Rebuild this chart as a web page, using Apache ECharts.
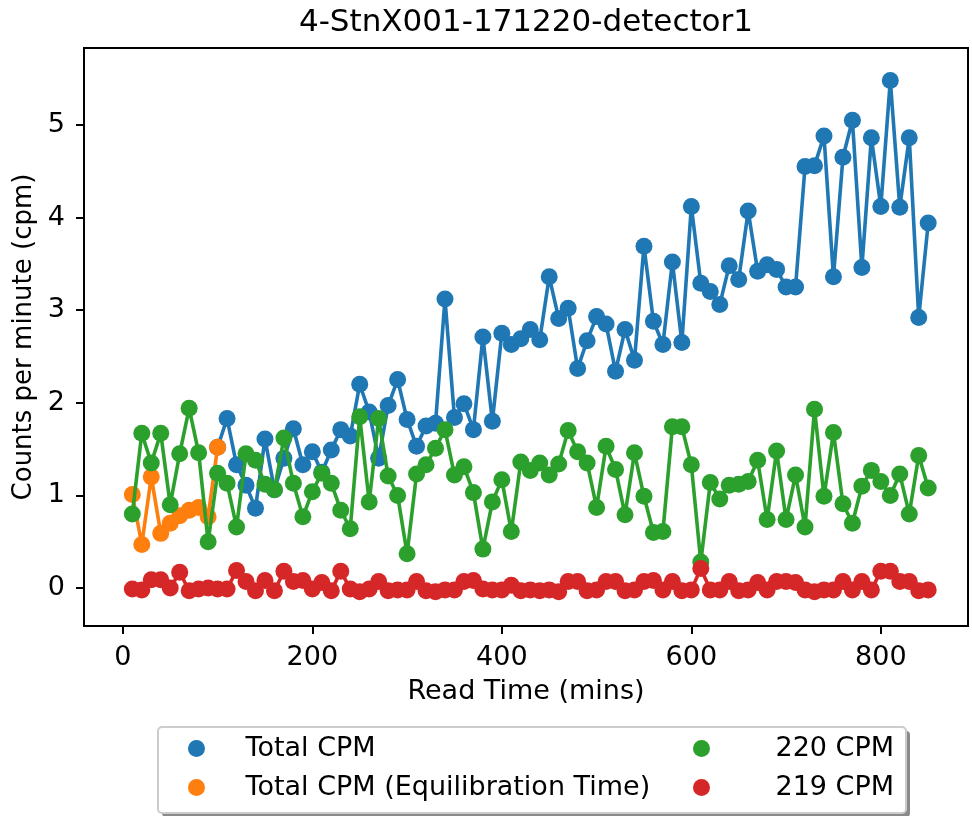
<!DOCTYPE html>
<html>
<head>
<meta charset="utf-8">
<script src="https://cdn.jsdelivr.net/npm/echarts@6/dist/echarts.min.js"></script>
<style>html,body{margin:0;padding:0;background:#fff}#main{width:972px;height:816px}</style>
</head>
<body>
<div id="main"></div>
<script>
// read times (mins)
var readTimes = [10,20,30,40,50,60,70,80,90,100,110,120,130,140,150,160,170,180,190,200,
  210,220,230,240,250,260,270,280,290,300,310,320,330,340,350,360,370,380,390,400,
  410,420,430,440,450,460,470,480,490,500,510,520,530,540,550,560,570,580,590,600,
  610,620,630,640,650,660,670,680,690,700,710,720,730,740,750,760,770,780,790,800,
  810,820,830,840,850];

// total cpm, 100..850
var totalCpm = [1.52,1.83,1.33,1.11,0.86,1.61,1.06,1.40,1.72,1.33,
  1.47,1.25,1.49,1.71,1.64,2.20,1.90,1.40,1.97,2.25,
  1.82,1.53,1.75,1.78,3.12,1.84,1.99,1.71,2.71,1.80,
  2.75,2.63,2.69,2.79,2.68,3.36,2.91,3.02,2.37,2.67,
  2.93,2.85,2.34,2.79,2.46,3.69,2.88,2.63,3.52,2.65,
  4.12,3.29,3.20,3.06,3.48,3.33,4.07,3.42,3.49,3.44,
  3.25,3.25,4.55,4.56,4.88,3.36,4.65,5.05,3.46,4.86,
  4.12,5.48,4.11,4.86,2.92,3.94];
// equilibration, 10..100
var equilCpm = [1.01,0.47,1.20,0.59,0.70,0.78,0.84,0.87,0.77,1.52];
// 220 cpm, 10..850
var cpm220 = [0.80,1.67,1.35,1.67,0.90,1.45,1.94,1.46,0.50,1.24,
  1.13,0.66,1.45,1.38,1.12,1.06,1.62,1.13,0.77,1.04,
  1.24,1.13,0.84,0.64,1.85,0.93,1.83,1.21,1.00,0.37,
  1.23,1.33,1.51,1.71,1.22,1.31,1.03,0.42,0.93,1.17,
  0.61,1.36,1.27,1.35,1.22,1.34,1.70,1.47,1.35,0.87,
  1.53,1.28,0.79,1.46,0.99,0.60,0.61,1.74,1.74,1.33,
  0.28,1.14,0.96,1.11,1.12,1.15,1.38,0.74,1.48,0.74,
  1.22,0.66,1.93,0.99,1.68,0.91,0.70,1.10,1.27,1.15,
  1.00,1.23,0.80,1.43,1.08];
// 219 cpm, 10..850
var cpm219 = [-0.01,-0.02,0.09,0.09,0.00,0.17,-0.03,-0.01,0.00,-0.01,
  -0.01,0.19,0.07,-0.03,0.08,-0.03,0.18,0.07,0.08,-0.01,
  0.06,-0.03,0.18,-0.01,-0.04,-0.01,0.07,-0.03,-0.02,-0.02,
  0.07,-0.03,-0.04,-0.02,-0.02,0.07,0.08,-0.01,-0.02,-0.02,
  0.03,-0.03,-0.02,-0.03,-0.02,-0.04,0.07,0.07,-0.03,-0.02,
  0.07,0.07,-0.03,-0.02,0.07,0.08,-0.02,0.07,-0.03,-0.02,
  0.21,-0.02,-0.02,0.07,-0.03,-0.02,0.06,-0.02,0.07,0.07,
  0.06,-0.02,-0.04,-0.02,-0.02,0.07,-0.02,0.07,-0.02,0.18,
  0.18,0.07,0.07,-0.03,-0.02];

var xTicks = [0, 200, 400, 600, 800];
var yTicks = [0, 1, 2, 3, 4, 5];

function pairs(times, vals) {
  return vals.map(function (v, i) { return [times[i], v]; });
}

var font = 'DejaVu Sans';
var fs = 27;
var myChart = echarts.init(document.getElementById('main'));

function lineSeries(name, color, data, z) {
  return {
    name: name,
    type: 'line',
    data: data,
    z: z,
    symbol: 'circle',
    symbolSize: 17,
    color: color,
    itemStyle: { color: color, borderWidth: 0 },
    lineStyle: { color: color, width: 3.6 },
    emphasis: { disabled: true }
  };
}

var option = {
  animation: false,
  backgroundColor: '#fff',
  title: {
    text: '4-StnX001-171220-detector1',
    left: 526,
    textAlign: 'center',
    top: 7,
    padding: 0,
    textStyle: { fontFamily: font, fontSize: 31, fontWeight: 'normal', color: '#000' }
  },
  grid: {
    left: 84, right: 4, top: 48, bottom: 190,
    show: true, borderColor: '#000', borderWidth: 2, backgroundColor: 'transparent'
  },
  xAxis: {
    type: 'value',
    min: -41, max: 892,
    name: 'Read Time (mins)',
    nameLocation: 'middle',
    nameGap: 52,
    nameTextStyle: { fontFamily: font, fontSize: fs, color: '#000' },
    axisLine: { onZero: false, lineStyle: { color: '#000', width: 2 } },
    axisTick: { show: true, length: 8, lineStyle: { color: '#000', width: 2 }, customValues: xTicks },
    axisLabel: { fontFamily: font, fontSize: fs, color: '#000', margin: 18, customValues: xTicks },
    splitLine: { show: false }
  },
  yAxis: {
    type: 'value',
    min: -0.41, max: 5.83,
    name: 'Counts per minute (cpm)',
    nameLocation: 'middle',
    nameGap: 26,
    nameTextStyle: { fontFamily: font, fontSize: 26, color: '#000' },
    axisLine: { show: true, onZero: false, lineStyle: { color: '#000', width: 2 } },
    axisTick: { show: true, length: 8, lineStyle: { color: '#000', width: 2 }, customValues: yTicks },
    axisLabel: { fontFamily: font, fontSize: fs, color: '#000', margin: 19, customValues: yTicks },
    splitLine: { show: false }
  },
  legend: [{
    data: ['Total CPM', 'Total CPM (Equilibration Time)'],
    orient: 'vertical',
    left: 183, top: 730,
    icon: 'circle',
    itemWidth: 88, itemHeight: 17, itemGap: 12,
    z: 10,
    textStyle: { fontFamily: font, fontSize: fs, color: '#000' }
  }, {
    data: ['220 CPM', '219 CPM'],
    orient: 'vertical',
    left: 688, top: 730,
    icon: 'circle',
    itemWidth: 138, itemHeight: 17, itemGap: 12,
    z: 10,
    textStyle: { fontFamily: font, fontSize: fs, color: '#000' }
  }],
  graphic: [{
    type: 'rect', z: 1,
    shape: { x: 162, y: 731, width: 748, height: 86, r: 4 },
    style: { fill: '#8a8a8a' }
  }, {
    type: 'rect', z: 2,
    shape: { x: 158, y: 727, width: 748, height: 86, r: 4 },
    style: { fill: '#fff', stroke: '#cccccc', lineWidth: 2 }
  }],
  series: [
    lineSeries('Total CPM', '#1f77b4', pairs(readTimes.slice(9), totalCpm), 2),
    lineSeries('Total CPM (Equilibration Time)', '#ff7f0e', pairs(readTimes.slice(0, 10), equilCpm), 3),
    lineSeries('220 CPM', '#2ca02c', pairs(readTimes, cpm220), 4),
    lineSeries('219 CPM', '#d62728', pairs(readTimes, cpm219), 5)
  ]
};
myChart.setOption(option);
</script>
</body>
</html>
